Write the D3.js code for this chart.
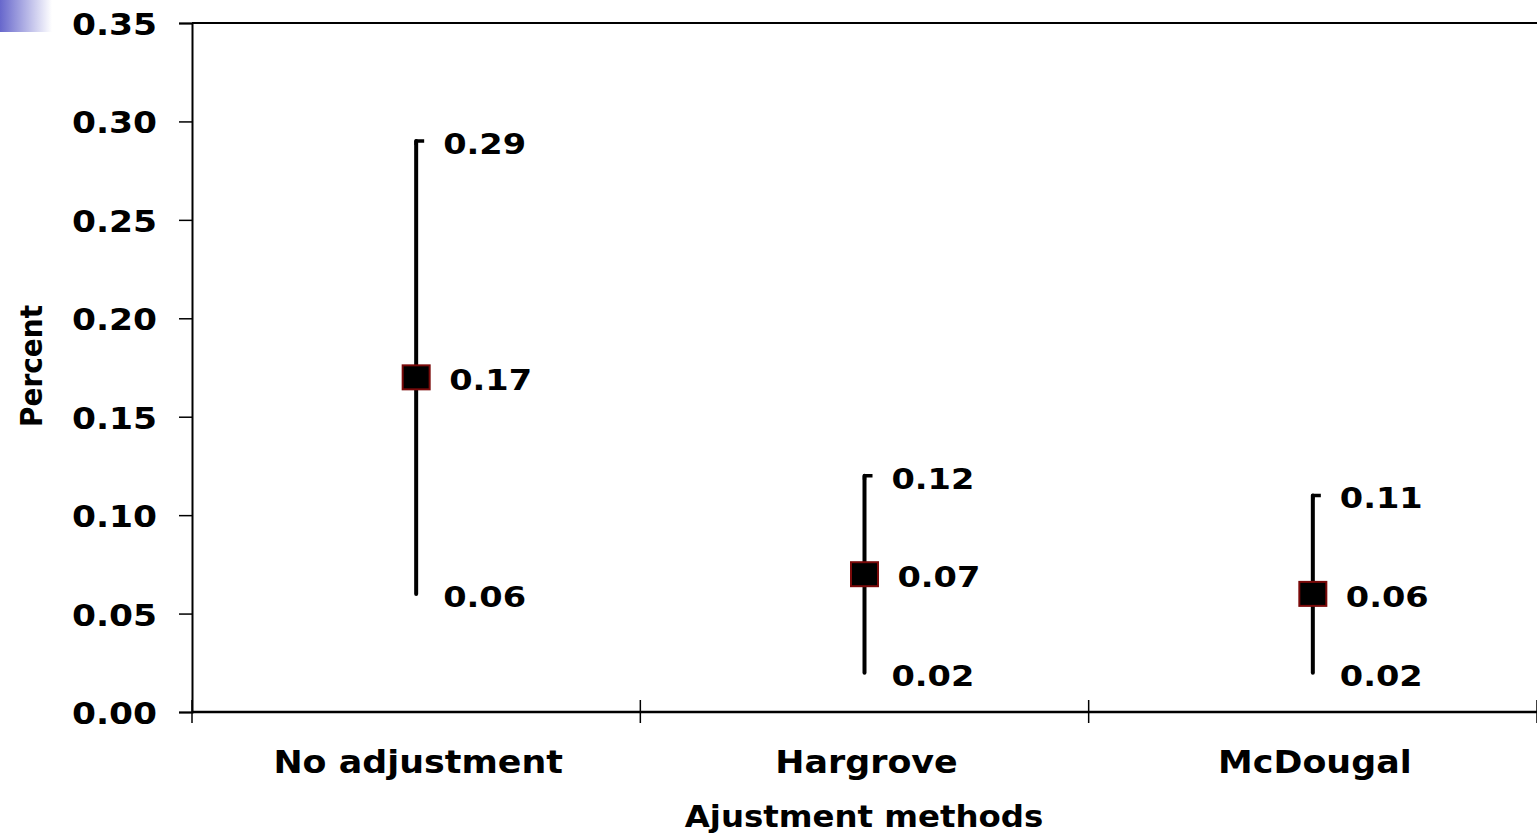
<!DOCTYPE html>
<html>
<head>
<meta charset="utf-8">
<script src="https://cdn.jsdelivr.net/npm/d3@7/dist/d3.min.js"></script>
<style>
  html, body { margin: 0; padding: 0; background: #fff; }
  svg { display: block; font-family: "DejaVu Sans", Verdana, sans-serif; font-weight: bold; }
</style>
</head>
<body>
<svg id="chart" width="1537" height="833"></svg>
<script>
// Adjustment methods and their estimate with lower / upper bounds
const categories = ["No adjustment", "Hargrove", "McDougal"];
const estimates = [0.17, 0.07, 0.06];
const lowerBounds = [0.06, 0.02, 0.02];
const upperBounds = [0.29, 0.12, 0.11];
const yTicks = [0.00, 0.05, 0.10, 0.15, 0.20, 0.25, 0.30, 0.35];
const yTitle = "Percent";
const xTitle = "Ajustment methods";

const svg = d3.select("#chart");
const plot = { left: 192, right: 1537, top: 23, bottom: 712 };

const fmt = d3.format(".2f");
const x = d3.scaleBand().domain(categories).range([plot.left, plot.right]).padding(0);
const y = d3.scaleLinear().domain([0, 0.35]).range([plot.bottom, plot.top]);

// small corner ornament
const defs = svg.append("defs");
const grad = defs.append("linearGradient").attr("id", "corner").attr("x1", 0).attr("x2", 1).attr("y1", 0).attr("y2", 0);
grad.append("stop").attr("offset", "0%").attr("stop-color", "#6767cc");
grad.append("stop").attr("offset", "100%").attr("stop-color", "#ffffff");
svg.append("rect").attr("x", 0).attr("y", 0).attr("width", 52).attr("height", 32).attr("fill", "url(#corner)");

// helper: horizontally stretched text
function stretchedText(g, tx, ty, sx, rot) {
  return g.append("text")
    .attr("transform", `translate(${tx},${ty}) scale(${sx},1)` + (rot ? ` rotate(${rot})` : ""));
}

// top border
svg.append("line")
  .attr("x1", plot.left).attr("x2", plot.right)
  .attr("y1", y(0.35)).attr("y2", y(0.35))
  .attr("stroke", "#000").attr("stroke-width", 2);

// y axis
const yAxis = d3.axisLeft(y).tickValues(yTicks).tickSize(13).tickFormat("");
const yg = svg.append("g").attr("transform", `translate(${plot.left},0)`).call(yAxis);
yg.select(".domain").attr("stroke", "#000").attr("stroke-width", 2);
yg.selectAll(".tick line").attr("stroke", "#000").attr("stroke-width", 1.5);
yTicks.forEach(t => {
  stretchedText(svg, 157, y(t) + 12, 1.15)
    .attr("text-anchor", "end")
    .attr("font-size", 30)
    .attr("fill", "#000")
    .text(fmt(t));
});

// x axis with ticks crossing the line at category boundaries
svg.append("line")
  .attr("x1", plot.left).attr("x2", plot.right)
  .attr("y1", plot.bottom).attr("y2", plot.bottom)
  .attr("stroke", "#000").attr("stroke-width", 2.5);
const bounds = categories.map(c => x(c)).concat([x(categories[2]) + x.bandwidth()]);
svg.selectAll(".xtick").data(bounds).enter().append("line")
  .attr("class", "xtick")
  .attr("x1", d => d).attr("x2", d => d)
  .attr("y1", plot.bottom - 12).attr("y2", plot.bottom + 11)
  .attr("stroke", "#000").attr("stroke-width", 1.5);

categories.forEach(c => {
  stretchedText(svg, x(c) + x.bandwidth() / 2 + 2, 773, 1.09)
    .attr("text-anchor", "middle")
    .attr("font-size", 32)
    .attr("fill", "#000")
    .text(c);
});

// axis titles
stretchedText(svg, 864, 827, 1.08)
  .attr("text-anchor", "middle")
  .attr("font-size", 30)
  .attr("fill", "#000")
  .text(xTitle);

stretchedText(svg, 42, 366, 1.1, -90)
  .attr("text-anchor", "middle")
  .attr("font-size", 28)
  .attr("fill", "#000")
  .text(yTitle);

// range lines, caps, markers and labels
const rows = categories.map((c, i) => ({ c, est: estimates[i], lo: lowerBounds[i], hi: upperBounds[i] }));
const g = svg.append("g");
rows.forEach(d => {
  const cx = x(d.c) + x.bandwidth() / 2;
  g.append("line")
    .attr("x1", cx).attr("x2", cx)
    .attr("y1", y(d.hi)).attr("y2", y(d.lo))
    .attr("stroke", "#000").attr("stroke-width", 4).attr("stroke-linecap", "round");
  g.append("path")
    .attr("d", `M${cx},${y(d.hi) + 4} L${cx},${y(d.hi)} L${cx + 8},${y(d.hi)}`)
    .attr("fill", "none").attr("stroke", "#000").attr("stroke-width", 3.5).attr("stroke-linejoin", "round");
  g.append("rect")
    .attr("x", cx - 13.5).attr("y", y(d.est) - 12)
    .attr("width", 27).attr("height", 24)
    .attr("fill", "#000").attr("stroke", "#7a0a0a").attr("stroke-width", 2);

  [[d.hi, 27], [d.lo, 27], [d.est, 33]].forEach(([v, dx]) => {
    stretchedText(g, cx + dx, y(v) + 13, 1.2)
      .attr("font-size", 28)
      .attr("fill", "#000")
      .text(fmt(v));
  });
});
</script>
</body>
</html>
